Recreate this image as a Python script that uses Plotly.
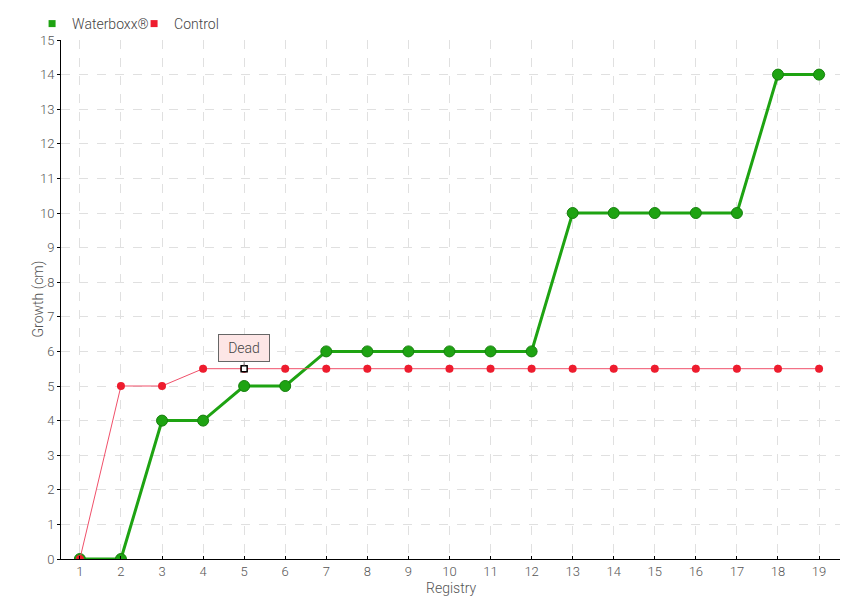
import plotly.graph_objects as go

registry = list(range(1, 20))
waterboxx = [0, 0, 4, 4, 5, 5, 6, 6, 6, 6, 6, 6, 10, 10, 10, 10, 10, 14, 14]
control = [0, 5, 5, 5.5, 5.5, 5.5, 5.5, 5.5, 5.5, 5.5, 5.5, 5.5, 5.5, 5.5, 5.5, 5.5, 5.5, 5.5, 5.5]
dead_index = 4  # registry 5
y_ticks = list(range(0, 16))

FONT = "Roboto, Liberation Sans, sans-serif"
GREEN = "#1ea312"
RED = "#ee1c2e"

fig = go.Figure()
fig.add_trace(go.Scatter(
    x=registry, y=waterboxx, mode="lines+markers", name="Waterboxx®",
    line=dict(color=GREEN, width=3),
    marker=dict(color=GREEN, size=11, line=dict(color="#16800d", width=1)),
    showlegend=False,
))
fig.add_trace(go.Scatter(
    x=registry, y=control, mode="lines+markers", name="Control",
    line=dict(color="#f0506a", width=1),
    marker=dict(color=RED, size=8, line=dict(width=0)),
    showlegend=False,
))
fig.add_trace(go.Scatter(
    x=[registry[dead_index]], y=[control[dead_index]], mode="markers", name="Dead",
    marker=dict(color="white", size=6, symbol="square", line=dict(color="black", width=1.5)),
    showlegend=False, hoverinfo="skip",
))
# legend entries
fig.add_trace(go.Scatter(x=[None], y=[None], mode="markers", name="Waterboxx®",
                         marker=dict(color=GREEN, symbol="square", size=7)))
fig.add_trace(go.Scatter(x=[None], y=[None], mode="markers", name="Control",
                         marker=dict(color=RED, symbol="square", size=7)))

fig.add_annotation(
    x=registry[dead_index], y=control[dead_index], text="Dead",
    showarrow=True, arrowhead=0, arrowwidth=1, arrowcolor="#777",
    ax=0, ay=-21, standoff=3, width=40,
    bgcolor="#fde6e6", bordercolor="#666", borderwidth=1, borderpad=5,
    font=dict(family=FONT, size=14, color="#444", weight=300),
)
# axis titles
fig.add_annotation(text="Growth (cm)", xref="paper", yref="paper", x=0, y=0.5,
                   xanchor="center", yanchor="middle", xshift=-23, textangle=-90,
                   showarrow=False, font=dict(family=FONT, size=14, color="#555", weight=300))
fig.add_annotation(text="Registry", xref="paper", yref="paper", x=0.5, y=0,
                   xanchor="center", yanchor="middle", yshift=-29,
                   showarrow=False, font=dict(family=FONT, size=14, color="#555", weight=300))

axis_common = dict(
    showgrid=True, gridcolor="#e0e0e0", griddash="dash", gridwidth=1,
    showline=True, linecolor="black", linewidth=1,
    ticklen=3, tickcolor="black",
    tickfont=dict(family=FONT, size=13, color="#555", weight=300),
    zeroline=False,
)

fig.update_layout(
    width=860, height=600,
    paper_bgcolor="white", plot_bgcolor="white",
    margin=dict(l=53, r=28, t=32, b=49, autoexpand=False),
    font=dict(family=FONT, color="#555"),
    legend=dict(orientation="h", x=0.028, y=1.0, xref="container", yref="container",
                xanchor="left", yanchor="top", bgcolor="rgba(0,0,0,0)",
                font=dict(family=FONT, size=14, color="#444", weight=300),
                itemwidth=30, entrywidth=57, entrywidthmode="pixels", tracegroupgap=0),
    xaxis=dict(range=[0.54, 19.51], tickvals=registry, ticks="inside", **axis_common),
    yaxis=dict(range=[0, 15], tickvals=y_ticks, ticks="outside", **axis_common),
)

fig.write_html("out.html")
